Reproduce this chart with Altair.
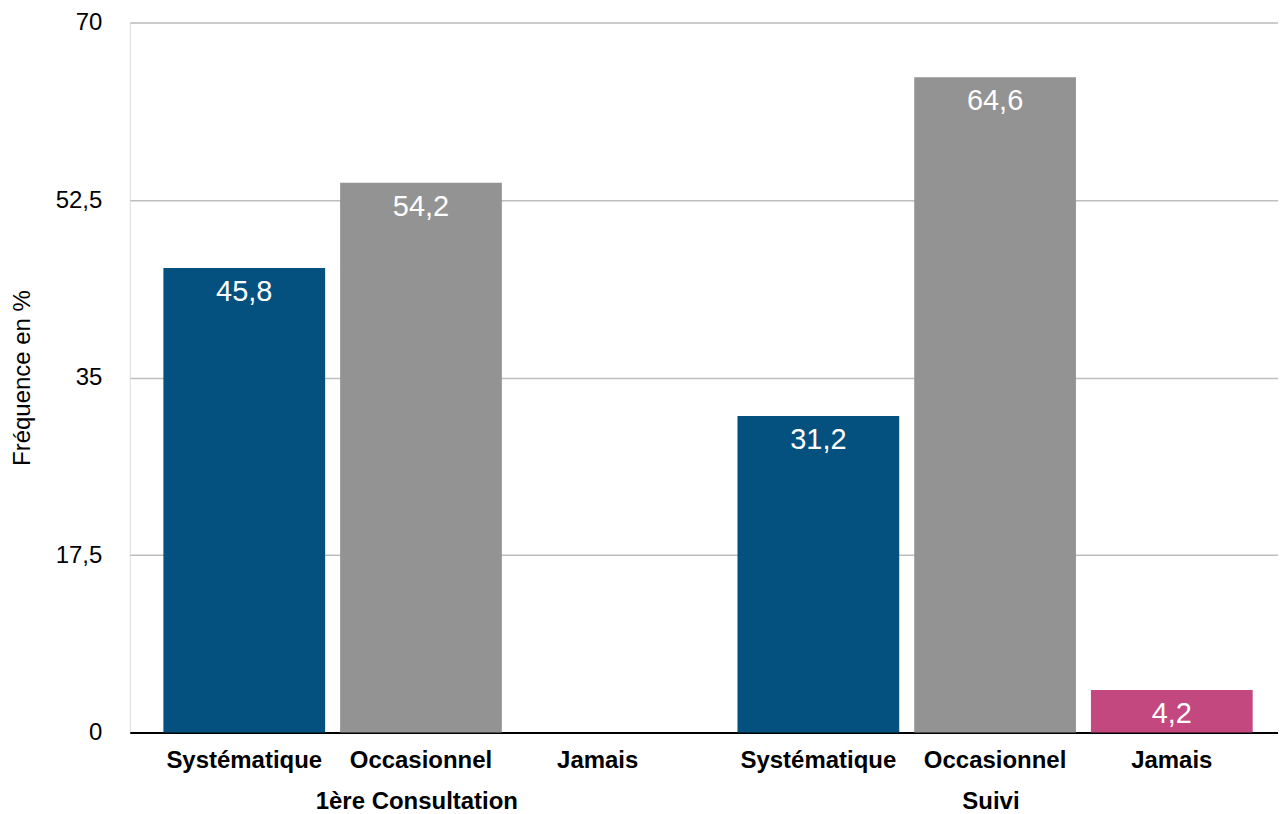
import altair as alt
import pandas as pd

groups = ["1ère Consultation", "1ère Consultation", "1ère Consultation", "Suivi", "Suivi", "Suivi"]
categories = ["Systématique", "Occasionnel", "Jamais", "Systématique", "Occasionnel", "Jamais"]
values = [45.8, 54.2, 0.0, 31.2, 64.6, 4.2]
cat_order = ["Systématique", "Occasionnel", "Jamais"]
group_order = ["1ère Consultation", "Suivi"]
colors = ["#04507F", "#939393", "#C2487F"]
y_ticks = [0, 17.5, 35, 52.5, 70]

df = pd.DataFrame({"groupe": groups, "cat": categories, "val": values})
df["lab"] = df["val"].map(lambda v: f"{v:.1f}".replace(".", ","))

FONT = "Liberation Sans"

x_enc = alt.X("groupe:N", sort=group_order,
              scale=alt.Scale(paddingInner=0, paddingOuter=0),
              axis=alt.Axis(title=None, labelFont=FONT, labelFontSize=24,
                            labelFontWeight="bold", labelColor="#000000",
                            labelAngle=0, labelPadding=57, labelLimit=0, ticks=False,
                            domain=True, domainColor="#000000", domainWidth=2,
                            grid=False))
xo_enc = alt.XOffset("cat:N", sort=cat_order,
                     scale=alt.Scale(paddingInner=15/177, paddingOuter=0.1667, align=0.57))
y_scale = alt.Scale(domain=[0, 70], nice=False, zero=True)

bars = alt.Chart(df).mark_bar().encode(
    x=x_enc,
    xOffset=xo_enc,
    y=alt.Y("val:Q", scale=y_scale,
            axis=alt.Axis(values=y_ticks, title="Fréquence en %",
                          labelExpr="replace(format(datum.value, '~g'), '.', ',')",
                          labelFont=FONT, labelFontSize=24, labelColor="#000000",
                          labelPadding=28, ticks=False, domain=False,
                          grid=True, gridColor="#BEBEBE", gridWidth=1.5,
                          titleFont=FONT, titleFontSize=24, titleFontWeight="normal",
                          titleColor="#000000", titlePadding=21)),
    color=alt.Color("cat:N", sort=cat_order,
                    scale=alt.Scale(domain=cat_order, range=colors), legend=None),
)

vals = alt.Chart(df).transform_filter("datum.val > 0").mark_text(
    font=FONT, fontSize=29, color="#FFFFFF", baseline="middle", dy=24
).encode(
    x=alt.X("groupe:N", sort=group_order),
    xOffset=alt.XOffset("cat:N", sort=cat_order),
    y=alt.Y("val:Q"),
    text="lab:N",
)

cats = alt.Chart(df).mark_text(
    font=FONT, fontSize=24, fontWeight="bold", color="#000000", baseline="middle", dy=29
).encode(
    x=alt.X("groupe:N", sort=group_order),
    xOffset=alt.XOffset("cat:N", sort=cat_order),
    y=alt.datum(0),
    text="cat:N",
)

chart = alt.layer(bars, vals, cats).properties(
    width=1150, height=711,
    autosize=alt.AutoSizeParams(type="none"),
    padding={"left": 122, "top": 14, "right": 0, "bottom": 81},
).configure_view(strokeWidth=0, stroke="transparent").configure(background="#FFFFFF")

chart.save("out.html", embed_options={"renderer": "svg", "actions": False})
